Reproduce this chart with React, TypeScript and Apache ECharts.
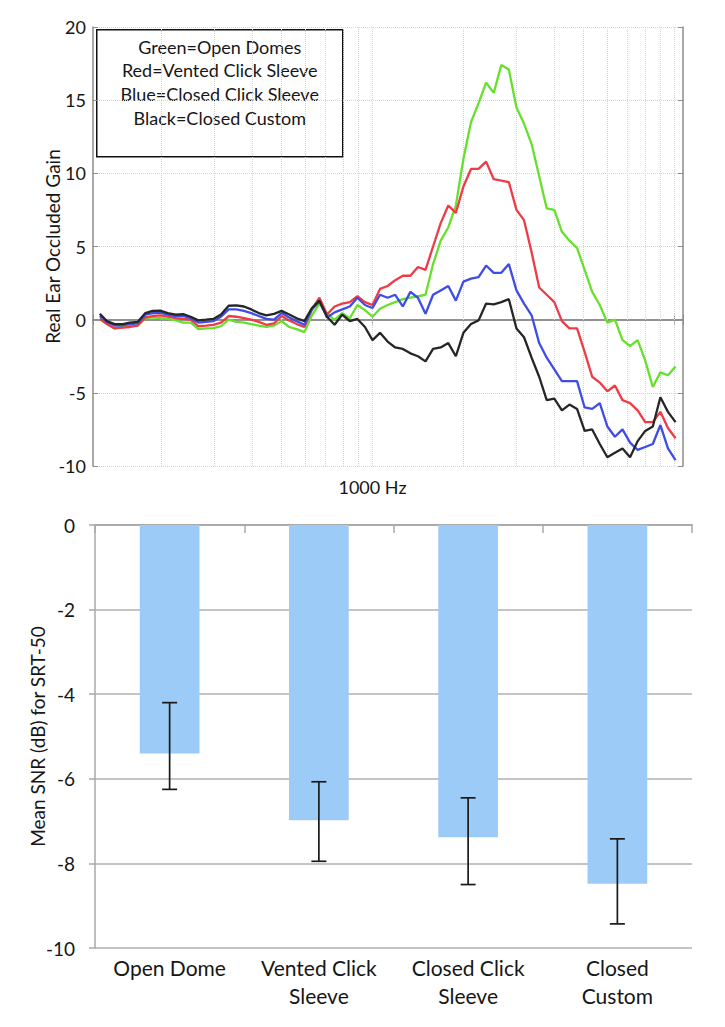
import React, { useEffect, useRef } from "react";
import * as echarts from "echarts";

// ---------- Top chart data (real ear occluded gain vs frequency) ----------
const freqHz = [
  125, 132, 140, 149, 157, 167, 177, 187, 198, 210,
  223, 236, 250, 265, 281, 297, 315, 334, 354, 375,
  397, 420, 445, 472, 500, 530, 561, 595, 630, 667,
  707, 749, 794, 841, 891, 944, 1000, 1059, 1122, 1189,
  1260, 1335, 1414, 1498, 1587, 1682, 1782, 1888, 2000, 2119,
  2245, 2378, 2520, 2670, 2828, 2997, 3175, 3364, 3564, 3775,
  4000, 4238, 4490, 4757, 5040, 5339, 5657, 5993, 6350, 6727,
  7127, 7551, 8000, 8476, 8980, 9514, 10080,
];

const greenOpenDomes = [
  0.05, -0.3, -0.6, -0.5, -0.45, -0.4, 0.1, 0.15, 0.1, 0.05,
  -0.05, -0.2, -0.2, -0.65, -0.6, -0.58, -0.45, 0.0, -0.15, -0.2,
  -0.3, -0.4, -0.5, -0.4, -0.1, -0.5, -0.65, -0.85, 0.3, 1.1,
  0.4, 0.0, 0.45, 0.1, 1.0, 0.65, 0.2, 0.75, 1.0, 1.2,
  1.4, 1.5, 1.6, 1.7, 3.8, 5.4, 6.3, 7.8, 11.0, 13.5,
  14.8, 16.2, 15.5, 17.4, 17.1, 14.5, 13.4, 12.0, 9.8, 7.6,
  7.5, 6.0, 5.4, 4.9, 3.4, 1.9, 1.0, -0.2, 0.0, -1.4,
  -1.8, -1.4, -2.8, -4.6, -3.6, -3.8, -3.2,
];

const redVentedClick = [
  0.05, -0.3, -0.6, -0.55, -0.5, -0.4, 0.15, 0.25, 0.3, 0.2,
  0.1, 0.05, 0.0, -0.45, -0.4, -0.35, -0.2, 0.25, 0.2, 0.1,
  0.0, -0.15, -0.35, -0.25, 0.25, -0.05, -0.3, -0.5, 0.7, 1.5,
  0.35, 0.9, 1.1, 1.2, 1.6, 1.2, 1.0, 2.1, 2.3, 2.7,
  3.0, 3.0, 3.6, 3.4, 5.0, 6.6, 7.8, 7.3, 9.1, 10.3,
  10.3, 10.8, 9.6, 9.5, 9.4, 7.5, 6.8, 4.6, 2.2, 1.7,
  1.2, -0.1, -0.6, -0.6, -2.2, -3.9, -4.3, -4.9, -4.5, -5.5,
  -5.7, -6.2, -7.0, -7.0, -6.3, -7.4, -8.1,
];

const blueClosedClick = [
  0.25, -0.15, -0.4, -0.38, -0.3, -0.25, 0.35, 0.45, 0.48, 0.35,
  0.25, 0.25, 0.1, -0.2, -0.15, -0.1, 0.2, 0.7, 0.7, 0.6,
  0.45, 0.25, 0.05, 0.0, 0.45, 0.15, -0.1, -0.35, 0.7, 1.25,
  0.15, 0.5, 0.7, 0.9, 1.5, 1.0, 0.8, 1.7, 1.5, 1.7,
  0.9, 1.9, 1.5, 0.4, 1.7, 2.0, 2.3, 1.3, 2.6, 2.8,
  2.9, 3.7, 3.2, 3.2, 3.8, 2.0, 1.1, 0.3, -1.6, -2.6,
  -3.4, -4.2, -4.2, -4.2, -6.0, -6.1, -5.7, -7.3, -8.0, -7.5,
  -8.4, -8.9, -8.7, -8.5, -7.2, -8.8, -9.6,
];

const blackClosedCustom = [
  0.4, -0.1, -0.3, -0.3, -0.2, -0.15, 0.45, 0.6, 0.62, 0.45,
  0.35, 0.38, 0.2, -0.05, 0.0, 0.05, 0.35, 0.95, 0.98, 0.9,
  0.7, 0.45, 0.3, 0.4, 0.6, 0.35, 0.1, -0.1, 0.8, 1.3,
  0.2, -0.35, 0.35, -0.1, 0.05, -0.5, -1.4, -0.9, -1.5, -1.9,
  -2.0, -2.3, -2.5, -2.85, -2.0, -1.9, -1.6, -2.5, -0.9, -0.3,
  -0.05, 1.1, 1.05, 1.2, 1.4, -0.6, -1.2, -2.6, -3.9, -5.5,
  -5.4, -6.2, -5.8, -6.1, -7.6, -7.5, -8.5, -9.4, -9.1, -8.8,
  -9.4, -8.3, -7.6, -7.3, -5.3, -6.3, -7.0,
];

const freqGridLines = [
  200, 300, 400, 500, 600, 700, 800, 900, 1000,
  2000, 3000, 4000, 5000, 6000, 7000, 8000, 9000, 10000,
];

const legendLines = [
  "Green=Open Domes",
  "Red=Vented Click Sleeve",
  "Blue=Closed Click Sleeve",
  "Black=Closed Custom",
];

// ---------- Bottom chart data (mean SNR for SRT-50) ----------
const fittings = ["Open Dome", "Vented Click\nSleeve", "Closed Click\nSleeve", "Closed\nCustom"];
const meanSnr = [-5.4, -6.98, -7.38, -8.48];
const errUpper = [-4.2, -6.07, -6.45, -7.42];
const errLower = [-6.25, -7.95, -8.5, -9.43];

const FONT = "Lato";
const TEXT = "#161616";
const FRAME = "#8c8c8c";

export default function App() {
  const ref = useRef<HTMLDivElement>(null);

  useEffect(() => {
    if (!ref.current) return;
    const chart = echarts.init(ref.current, null, { renderer: "svg" });

    const lineSeries = (name: string, vals: number[], color: string, extra: any = {}) => ({
      type: "line",
      name,
      xAxisIndex: 0,
      yAxisIndex: 0,
      data: freqHz.map((f, i) => [f, vals[i]]),
      showSymbol: false,
      symbol: "none",
      lineStyle: { color, width: 2.3 },
      itemStyle: { color },
      z: 3,
      ...extra,
    });

    const option: any = {
      animation: false,
      textStyle: { fontFamily: FONT },
      grid: [
        { left: 93, top: 27, width: 590, height: 439 },
        { left: 95, top: 525, width: 597, height: 423 },
      ],
      xAxis: [
        {
          gridIndex: 0,
          type: "log",
          min: 118.7,
          max: 10670,
          position: "bottom",
          axisLine: { show: true, lineStyle: { color: FRAME, width: 1.5 } },
          axisTick: { show: true, inside: true, length: 5, lineStyle: { color: FRAME } },
          axisLabel: {
            formatter: (v: number) => (Math.abs(v - 1000) < 1 ? "1000 Hz" : ""),
            fontSize: 18,
            color: TEXT,
            margin: 12,
          },
          splitLine: { show: false },
        },
        {
          gridIndex: 0,
          type: "log",
          min: 118.7,
          max: 10670,
          position: "top",
          axisLine: { show: true, lineStyle: { color: FRAME, width: 1.5 } },
          axisTick: { show: true, inside: true, length: 5, lineStyle: { color: FRAME } },
          axisLabel: { show: false },
          splitLine: { show: false },
        },
        {
          gridIndex: 1,
          type: "category",
          data: fittings,
          position: "bottom",
          axisLine: { show: true, lineStyle: { color: "#a8a8a8", width: 1.5 } },
          axisTick: { show: false },
          axisLabel: { interval: 0, fontSize: 21, lineHeight: 28, color: TEXT, margin: 5 },
        },
        {
          gridIndex: 1,
          type: "category",
          data: fittings,
          position: "top",
          axisLine: { show: true, lineStyle: { color: "#a8a8a8", width: 1.5 } },
          axisTick: { show: true, inside: true, length: 8, lineStyle: { color: "#a8a8a8", width: 1.5 } },
          axisLabel: { show: false },
        },
      ],
      yAxis: [
        {
          gridIndex: 0,
          type: "value",
          min: -10,
          max: 20,
          interval: 5,
          position: "left",
          axisLine: { show: true, lineStyle: { color: FRAME, width: 1.5 } },
          axisTick: { show: true, inside: true, length: 5, lineStyle: { color: FRAME } },
          axisLabel: { fontSize: 18, color: TEXT, margin: 7 },
          splitLine: { show: true, lineStyle: { type: "dotted", color: "#d4d4d4", width: 1 } },
          name: "Real Ear Occluded Gain",
          nameLocation: "middle",
          nameGap: 31,
          nameMoveOverlap: false,
          nameTextStyle: { fontSize: 19, color: TEXT },
        },
        {
          gridIndex: 0,
          type: "value",
          min: -10,
          max: 20,
          interval: 5,
          position: "right",
          axisLine: { show: true, lineStyle: { color: FRAME, width: 1.5 } },
          axisTick: { show: true, inside: true, length: 5, lineStyle: { color: FRAME } },
          axisLabel: { show: false },
          splitLine: { show: false },
        },
        {
          gridIndex: 1,
          type: "value",
          min: -10,
          max: 0,
          interval: 2,
          axisLine: { show: true, lineStyle: { color: "#a8a8a8", width: 1.5 } },
          axisTick: { show: true, inside: false, length: 6, lineStyle: { color: "#a8a8a8", width: 1.5 } },
          axisLabel: { fontSize: 19, color: TEXT, margin: 20 },
          splitLine: { show: true, lineStyle: { color: "#b0b0b0", width: 1.5 } },
          name: "Mean SNR (dB) for SRT-50",
          nameLocation: "middle",
          nameGap: 48,
          nameMoveOverlap: false,
          nameTextStyle: { fontSize: 19, color: TEXT },
        },
      ],
      series: [
        lineSeries("Green=Open Domes", greenOpenDomes, "#66e02c", {
          markLine: {
            silent: true,
            symbol: ["none", "none"],
            label: { show: false },
            lineStyle: { type: "dotted", color: "#d4d4d4", width: 1 },
            z: 1,
            data: freqGridLines.map((f) => ({ xAxis: f })),
          },
        }),
        lineSeries("Red=Vented Click Sleeve", redVentedClick, "#ee3b46"),
        lineSeries("Blue=Closed Click Sleeve", blueClosedClick, "#3d4de6"),
        lineSeries("Black=Closed Custom", blackClosedCustom, "#262626"),
        {
          type: "bar",
          xAxisIndex: 2,
          yAxisIndex: 2,
          data: meanSnr,
          barWidth: "40%",
          itemStyle: { color: "#9dcbf7" },
          z: 2,
        },
        {
          type: "custom",
          xAxisIndex: 2,
          yAxisIndex: 2,
          z: 4,
          encode: { x: 0, y: [1, 2] },
          data: fittings.map((_, i) => [i, errLower[i], errUpper[i]]),
          renderItem: (params: any, api: any) => {
            const idx = api.value(0);
            const lo = api.coord([idx, api.value(1)]);
            const hi = api.coord([idx, api.value(2)]);
            const cap = 7.5;
            const style = { stroke: "#1a1a1a", lineWidth: 1.7 };
            return {
              type: "group",
              children: [
                { type: "line", shape: { x1: hi[0], y1: hi[1], x2: lo[0], y2: lo[1] }, style },
                { type: "line", shape: { x1: hi[0] - cap, y1: hi[1], x2: hi[0] + cap, y2: hi[1] }, style },
                { type: "line", shape: { x1: lo[0] - cap, y1: lo[1], x2: lo[0] + cap, y2: lo[1] }, style },
              ],
            };
          },
        },
      ],
      graphic: [
        {
          type: "group",
          left: 96,
          top: 29,
          z: 100,
          children: [
            {
              type: "rect",
              shape: { x: 0, y: 0, width: 246, height: 127 },
              style: { fill: "#ffffff", stroke: "#111111", lineWidth: 1.5 },
            },
            ...legendLines.map((t, i) => ({
              type: "text",
              x: 123,
              y: 17 + i * 23.7,
              style: {
                text: t,
                fill: TEXT,
                fontSize: 18,
                fontFamily: FONT,
                align: "center",
                verticalAlign: "middle",
                textAlign: "center",
                textVerticalAlign: "middle",
              },
            })),
          ],
        },
      ],
    };

    chart.setOption(option);
    return () => chart.dispose();
  }, []);

  return (
    <div
      ref={ref}
      style={{ position: "absolute", left: 0, top: 0, width: 725, height: 1027, background: "#fff" }}
    />
  );
}
